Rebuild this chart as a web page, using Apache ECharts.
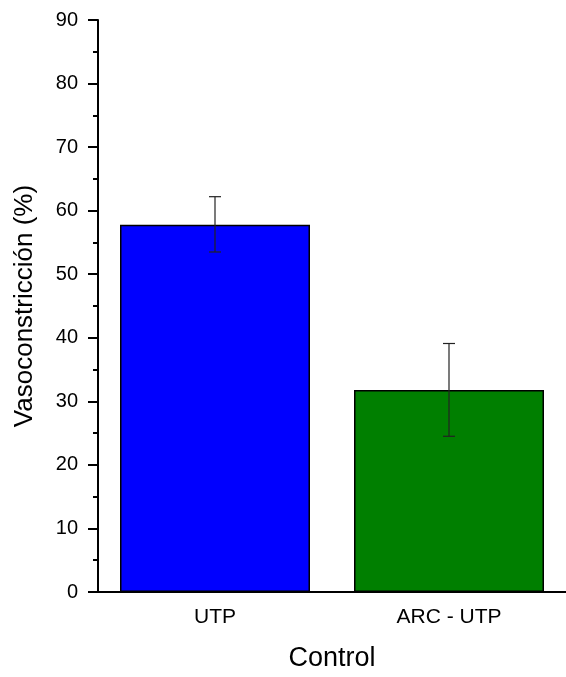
<!DOCTYPE html>
<html><head><meta charset="utf-8">
<script src="https://cdn.jsdelivr.net/npm/echarts@6/dist/echarts.min.js"></script>
<style>html,body{margin:0;padding:0;background:#fff}#c{width:566px;height:677px}</style>
</head><body><div id="c"></div>
<script>
var categories = ['UTP', 'ARC - UTP'];
var values = [57.8, 31.8];
var errLow = [53.5, 24.5];
var errHigh = [62.2, 39.1];
var colors = ['#0000FF', '#007F00'];
var yTicks = [0, 10, 20, 30, 40, 50, 60, 70, 80, 90];

var chart = echarts.init(document.getElementById('c'));
var font = 'Liberation Sans, Arial, sans-serif';
chart.setOption({
  animation: false,
  grid: {left: 98, top: 20, bottom: 81, right: -6, containLabel: false},
  xAxis: {
    type: 'category', data: categories,
    name: 'Control', nameLocation: 'middle', nameGap: 53,
    nameTextStyle: {fontFamily: font, fontSize: 27, color: '#000'},
    axisLine: {lineStyle: {color: '#000', width: 2}},
    axisTick: {show: false},
    axisLabel: {fontFamily: font, fontSize: 21, color: '#000', margin: 15}
  },
  yAxis: {
    type: 'value', min: yTicks[0], max: yTicks[yTicks.length - 1], interval: 10,
    name: 'Vasoconstricción (%)', nameLocation: 'middle', nameGap: 60,
    nameTextStyle: {fontFamily: font, fontSize: 26, color: '#000'},
    axisLine: {show: true, lineStyle: {color: '#000', width: 2}},
    axisTick: {show: true, length: 10, lineStyle: {color: '#000', width: 2}},
    minorTick: {show: true, splitNumber: 2, length: 5, lineStyle: {color: '#000', width: 2}},
    splitLine: {show: false},
    axisLabel: {fontFamily: font, fontSize: 20, color: '#000', margin: 20}
  },
  series: [{
    type: 'bar', barWidth: 190,
    data: values.map(function (v, i) {
      return {value: v, itemStyle: {color: colors[i], borderColor: '#000', borderWidth: 1.5}};
    })
  }, {
    type: 'custom',
    data: categories.map(function (c, i) { return [i, errLow[i], errHigh[i]]; }),
    renderItem: function (params, api) {
      var lo = api.coord([api.value(0), api.value(1)]);
      var hi = api.coord([api.value(0), api.value(2)]);
      var w = 6;
      var st = {stroke: '#222', lineWidth: 1.2};
      return {type: 'group', children: [
        {type: 'line', shape: {x1: hi[0], y1: hi[1], x2: lo[0], y2: lo[1]}, style: st},
        {type: 'line', shape: {x1: hi[0] - w, y1: hi[1], x2: hi[0] + w, y2: hi[1]}, style: st},
        {type: 'line', shape: {x1: lo[0] - w, y1: lo[1], x2: lo[0] + w, y2: lo[1]}, style: st}
      ]};
    },
    z: 10
  }]
});
</script></body></html>
